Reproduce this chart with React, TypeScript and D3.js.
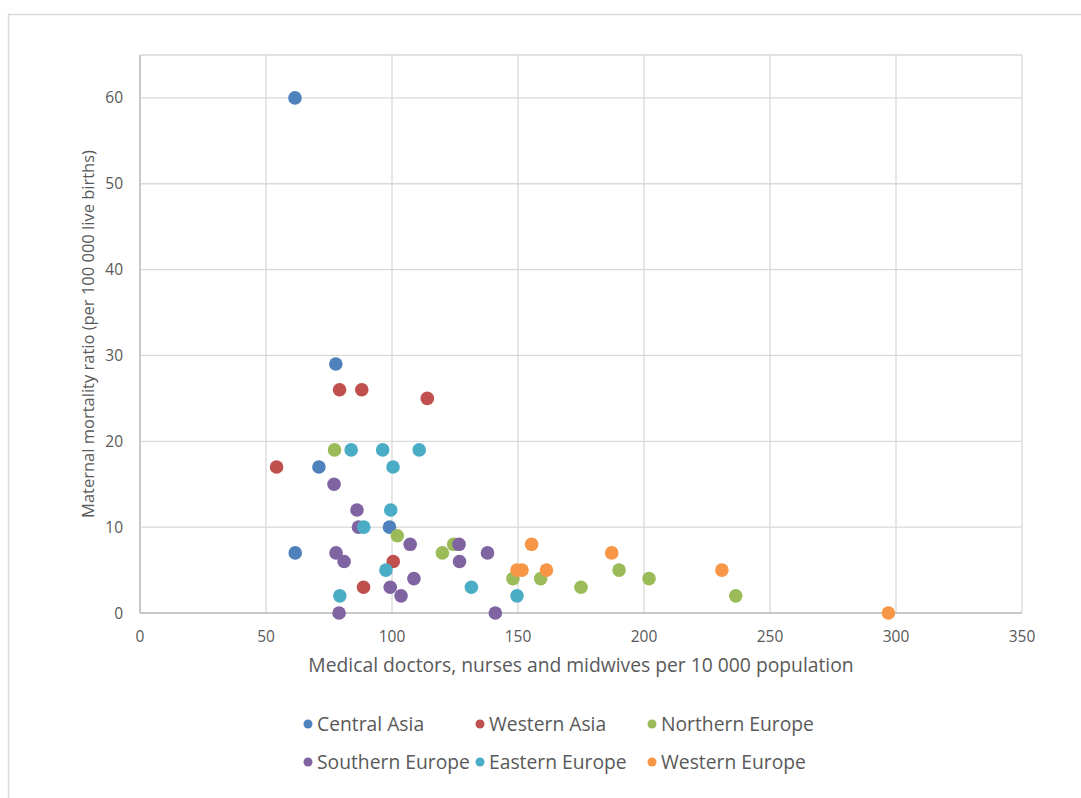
import React from "react";
import * as d3 from "d3";

const seriesNames = ["Central Asia", "Western Asia", "Northern Europe", "Southern Europe", "Eastern Europe", "Western Europe"];
const seriesColors = ["#4F81BD", "#C0504D", "#9BBB59", "#8064A2", "#4BACC6", "#F79646"];

const centralAsia: [number, number][] = [[61.5, 60], [77.7, 29], [71, 17], [61.6, 7], [99, 10]];
const westernAsia: [number, number][] = [[79.2, 26], [88, 26], [114, 25], [54.2, 17], [100.5, 6], [88.7, 3]];
const northernEurope: [number, number][] = [[77.2, 19], [102.1, 9], [120, 7], [124.5, 8], [148, 4], [159, 4], [175, 3], [190.1, 5], [202, 4], [236.4, 2]];
const southernEurope: [number, number][] = [[77, 15], [86.1, 12], [86.7, 10], [77.8, 7], [81, 6], [107.2, 8], [126.6, 8], [126.8, 6], [137.9, 7], [108.7, 4], [99.3, 3], [103.6, 2], [79, 0], [141, 0]];
const easternEurope: [number, number][] = [[83.8, 19], [96.3, 19], [110.8, 19], [100.4, 17], [99.5, 12], [88.8, 10], [97.6, 5], [79.3, 2], [131.5, 3], [149.6, 2]];
const westernEurope: [number, number][] = [[155.4, 8], [187.2, 7], [149.6, 5], [151.6, 5], [161.3, 5], [230.9, 5], [297, 0]];

const seriesData = [centralAsia, westernAsia, northernEurope, southernEurope, easternEurope, westernEurope];

const xTicks = [0, 50, 100, 150, 200, 250, 300, 350];
const yTicks = [0, 10, 20, 30, 40, 50, 60];

const xTitle = "Medical doctors, nurses and midwives per 10 000 population";
const yTitle = "Maternal mortality ratio (per 100 000 live births)";

export default function App() {
  const W = 1081, H = 798;
  const left = 140, right = 1022, top = 55, bottom = 613;
  const x = d3.scaleLinear().domain([0, 350]).range([left, right]);
  const y = d3.scaleLinear().domain([0, 65]).range([bottom, top]);
  const font = "'Open Sans', 'Noto Sans', sans-serif";
  const textColor = "#595959";

  const legendCols = [300, 472, 644];
  const legendRows = [724, 762];

  return (
    <div style={{ position: "absolute", left: 0, top: 0 }}>
      <svg width={W} height={H} style={{ display: "block", background: "#fff" }}>
        <rect x={0} y={0} width={W} height={H} fill="#fff" />
        {/* chart border */}
        <path d={`M8.5,${H} V14.5 H${W}`} fill="none" stroke="#D9D9D9" strokeWidth={1.5} />
        {/* gridlines */}
        {xTicks.map((t) => (
          <line key={"gx" + t} x1={x(t)} x2={x(t)} y1={top} y2={bottom} stroke="#D9D9D9" strokeWidth={1.3} />
        ))}
        {yTicks.map((t) => (
          <line key={"gy" + t} x1={left} x2={right} y1={y(t)} y2={y(t)} stroke="#D9D9D9" strokeWidth={1.3} />
        ))}
        <line x1={left} x2={right} y1={top} y2={top} stroke="#D9D9D9" strokeWidth={1.3} />
        {/* axes */}
        <line x1={left} x2={right} y1={bottom} y2={bottom} stroke="#BFBFBF" strokeWidth={1.5} />
        <line x1={left} x2={left} y1={top} y2={bottom} stroke="#BFBFBF" strokeWidth={1.5} />
        {/* tick labels */}
        {xTicks.map((t) => (
          <text key={"tx" + t} x={x(t)} y={641.5} textAnchor="middle" fontFamily={font} fontSize={15.5} fill={textColor}>
            {t}
          </text>
        ))}
        {yTicks.map((t) => (
          <text key={"ty" + t} x={123} y={y(t) + 5.5} textAnchor="end" fontFamily={font} fontSize={15.5} fill={textColor}>
            {t}
          </text>
        ))}
        {/* axis titles */}
        <text x={(left + right) / 2} y={671.5} textAnchor="middle" fontFamily={font} fontSize={19.3} fill={textColor}>
          {xTitle}
        </text>
        <text transform={`translate(93.5, ${(top + bottom) / 2}) rotate(-90)`} textAnchor="middle" fontFamily={font} fontSize={16.5} fill={textColor}>
          {yTitle}
        </text>
        {/* points */}
        {seriesData.map((pts, si) =>
          pts.map((p, i) => (
            <circle key={si + "-" + i} cx={x(p[0])} cy={y(p[1])} r={6.8} fill={seriesColors[si]} />
          ))
        )}
        {/* legend */}
        {seriesNames.map((name, i) => {
          const cx = legendCols[i % 3] + 8;
          const cy = legendRows[Math.floor(i / 3)];
          return (
            <g key={name}>
              <circle cx={cx} cy={cy} r={4.5} fill={seriesColors[i]} />
              <text x={cx + 9} y={cy + 7} fontFamily={font} fontSize={19.3} fill={textColor}>
                {name}
              </text>
            </g>
          );
        })}
      </svg>
    </div>
  );
}
